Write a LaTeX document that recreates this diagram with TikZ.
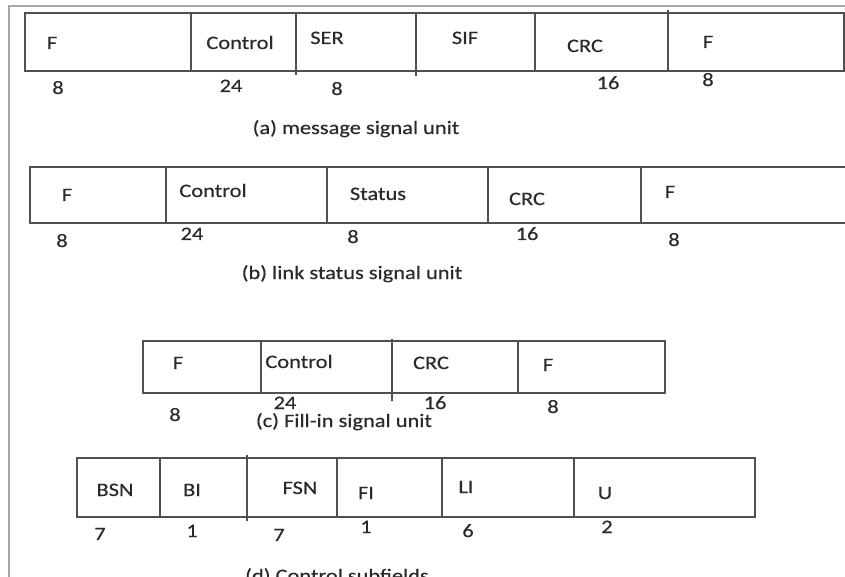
\documentclass[tikz,border=0pt]{standalone}
\usepackage{fontspec}
\setmainfont{Carlito}[FakeStretch=1.18,FakeBold=0.4]
\usetikzlibrary{calc,positioning}

\definecolor{boxgray}{HTML}{505050}
\definecolor{framegray}{HTML}{A6A6A6}
\definecolor{txtgray}{HTML}{2A2A2A}

\tikzset{
  unitbox/.style={draw=boxgray, line width=1.6pt},
  framebox/.style={draw=framegray, line width=1.4pt},
  fieldtext/.style={anchor=base, inner sep=0pt, text=txtgray, font=\fontsize{19}{22}\selectfont},
  caption/.style={fieldtext}
}

\begin{document}
\begin{tikzpicture}[x=1pt,y=-1pt]
                      \useasboundingbox (0,0) rectangle (845,577);
                      \draw[framebox] (9,580) -- (9,6) -- (850,6);

                      % (a) message signal unit
                      \draw[unitbox] (25,13) rectangle (844,71);
                      \foreach \x in {191,535} {\draw[unitbox] (\x,13) -- (\x,71);};
                      \draw[unitbox] (296,13) -- (296,75);
                      \draw[unitbox] (416,13) -- (416,76);
                      \draw[unitbox] (668,10) -- (668,71);
                      \foreach \x/\y/\t [count=\i] in {52/49/F, 240/49/Control, 327/44/SER, 465/44/SIF, 585/52/CRC, 708/48/F}
                          {\node[fieldtext] (msu-\i) at (\x,\y) {\t};};
                      \foreach \x/\y/\t [count=\i] in {58/94/8, 231/92/24, 337/95/8, 608/89/16, 708/86/8}
                          {\node[fieldtext] (msu-len-\i) at (\x,\y) {\t};};
                      \node[caption] (msu-cap) at (356,134) {(a) message signal unit};

                      % (b) link status signal unit
                      \draw[unitbox] (30,167) rectangle (860,223);
                      \foreach \x in {166,327,488,641} {\draw[unitbox] (\x,167) -- (\x,223);};
                      \foreach \x/\y/\t [count=\i] in {67/201/F, 213/197/Control, 378/200/Status, 527/205/CRC, 670/198/F}
                          {\node[fieldtext] (lssu-\i) at (\x,\y) {\t};};
                      \foreach \x/\y/\t [count=\i] in {62/247/8, 192/240/24, 353/243/8, 527/240/16, 674/246/8}
                          {\node[fieldtext] (lssu-len-\i) at (\x,\y) {\t};};
                      \node[caption] (lssu-cap) at (352,279) {(b) link status signal unit};

                      % (c) fill-in signal unit
                      \draw[unitbox] (143,341) rectangle (665,393);
                      \foreach \x in {261,518} {\draw[unitbox] (\x,341) -- (\x,393);};
                      \draw[unitbox] (392,339) -- (392,401);
                      \foreach \x/\y/\t [count=\i] in {178/369/F, 299/368/Control, 431/369/CRC, 548/371/F}
                          {\node[fieldtext] (fisu-\i) at (\x,\y) {\t};};
                      \foreach \x/\y/\t [count=\i] in {175/421/8, 285/409/24, 435/409/16, 553/413/8}
                          {\node[fieldtext] (fisu-len-\i) at (\x,\y) {\t};};
                      \node[caption] (fisu-cap) at (344,427) {(c) Fill-in signal unit};

                      % (d) control subfields
                      \draw[unitbox] (77,458) rectangle (755,517);
                      \foreach \x in {160,337,442,574} {\draw[unitbox] (\x,458) -- (\x,517);};
                      \draw[unitbox] (247,455) -- (247,521);
                      \foreach \x/\y/\t [count=\i] in {115/496/BSN, 192/496/BI, 300/494/FSN, 366/499/FI, 466/493/LI, 605/499/U}
                          {\node[fieldtext] (ctl-\i) at (\x,\y) {\t};};
                      \foreach \x/\y/\t [count=\i] in {100/540/7, 192/537/1, 279/541/7, 366/533/1, 468/537/6, 607/533/2}
                          {\node[fieldtext] (ctl-len-\i) at (\x,\y) {\t};};
                      \node[caption] (ctl-cap) at (337,582) {(d) Control subfields};
                  \end{tikzpicture}
\end{document}
